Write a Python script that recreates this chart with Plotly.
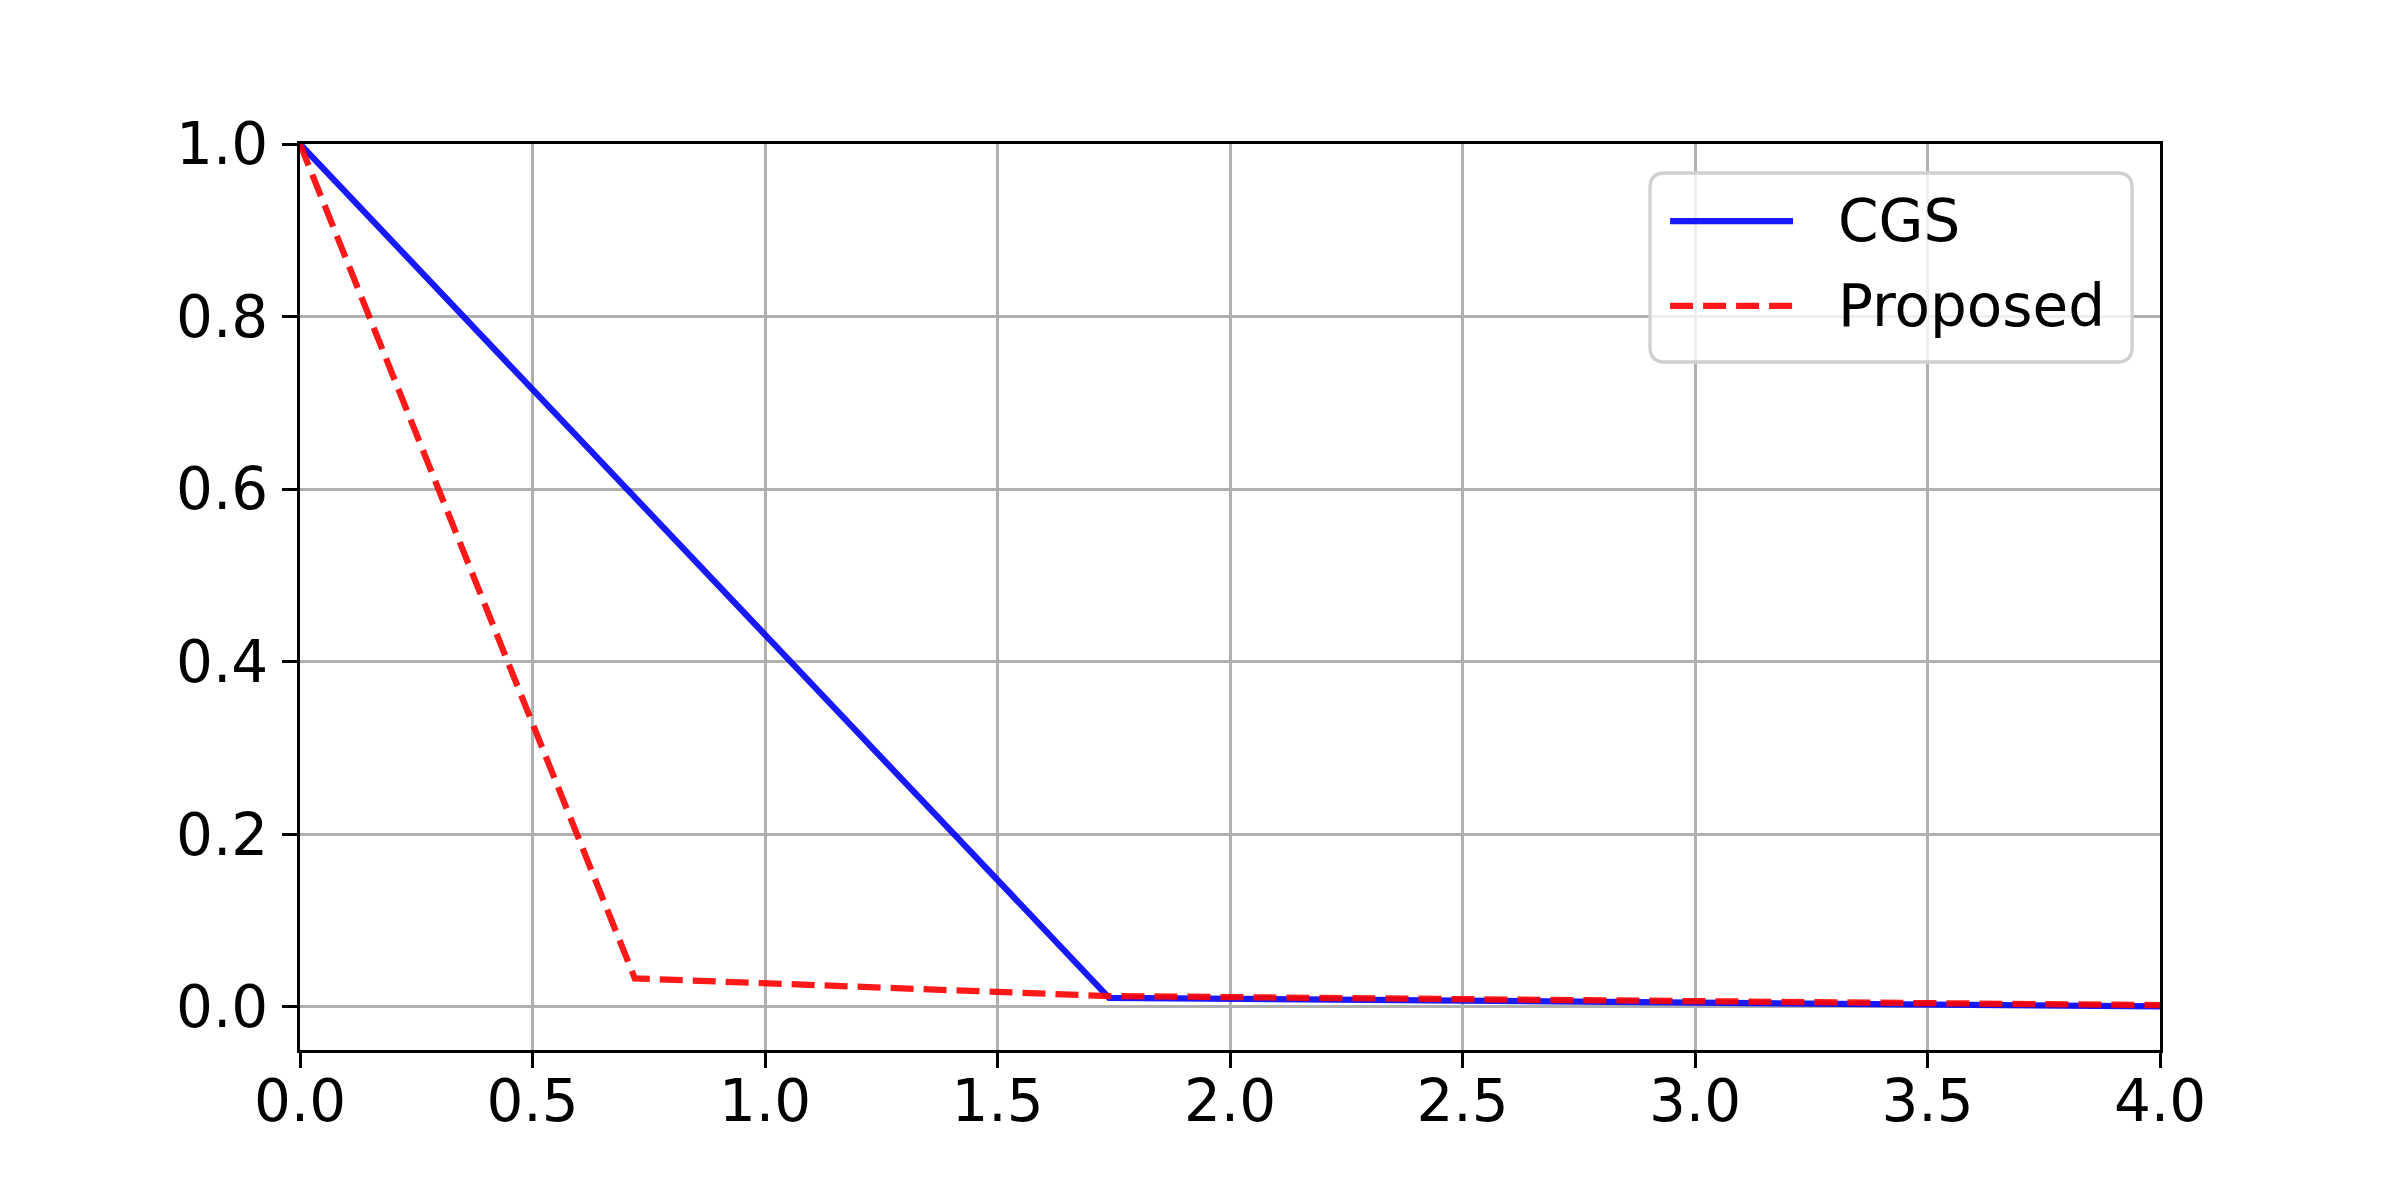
import plotly.graph_objects as go

# Data
cgs_x = [0.0, 1.74, 4.0]
cgs_y = [1.0, 0.0105, 0.0005]
prop_x = [0.0, 0.72, 1.74, 4.0]
prop_y = [1.0, 0.033, 0.0125, 0.002]

series_names = ["CGS", "Proposed"]
x_ticks = [0.0, 0.5, 1.0, 1.5, 2.0, 2.5, 3.0, 3.5, 4.0]
y_ticks = [0.0, 0.2, 0.4, 0.6, 0.8, 1.0]

BLUE = "rgba(0,0,255,0.9)"
RED = "rgba(255,0,0,0.9)"
FONT = "DejaVu Sans"
FS = 58
LW = 6.25

fig = go.Figure()
fig.add_trace(go.Scatter(x=cgs_x, y=cgs_y, mode="lines", name=series_names[0],
                         line=dict(color=BLUE, width=LW), showlegend=False))
fig.add_trace(go.Scatter(x=prop_x, y=prop_y, mode="lines", name=series_names[1],
                         line=dict(color=RED, width=LW, dash="23px,10px"), showlegend=False))

axis_common = dict(
    showgrid=True, gridcolor="#b0b0b0", gridwidth=3.3,
    showline=True, linecolor="black", linewidth=3.3, mirror=True,
    ticks="outside", ticklen=15, tickwidth=3.3, tickcolor="black",
    zeroline=False,
    tickfont=dict(family=FONT, size=FS, color="black"),
)

fig.update_xaxes(range=[0, 4], tickvals=x_ticks,
                 ticktext=[f"{v:.1f}" for v in x_ticks], ticklabelstandoff=-17, **axis_common)
fig.update_yaxes(range=[-0.05, 1.0], tickvals=y_ticks,
                 ticktext=[f"{v:.1f}" for v in y_ticks], ticklabelstandoff=2, **axis_common)

# Manual legend (matplotlib style, rounded frame)
x0, x1, y0, y1 = 0.7258, 0.985, 0.7594, 0.968
rx, ry = 0.008, 0.0166
path = (f"M {x0+rx},{y0} L {x1-rx},{y0} Q {x1},{y0} {x1},{y0+ry} "
        f"L {x1},{y1-ry} Q {x1},{y1} {x1-rx},{y1} L {x0+rx},{y1} "
        f"Q {x0},{y1} {x0},{y1-ry} L {x0},{y0+ry} Q {x0},{y0} {x0+rx},{y0} Z")
fig.add_shape(type="path", path=path, xref="paper", yref="paper",
              fillcolor="rgba(255,255,255,0.8)", line=dict(color="#d0d0d0", width=3.3),
              layer="above")
legend_rows = [(0.915, BLUE, "solid"), (0.8212, RED, "23px,10px")]
for name, (yy, col, dsh) in zip(series_names, legend_rows):
    fig.add_shape(type="line", xref="paper", yref="paper", x0=0.7366, x1=0.8027,
                  y0=yy, y1=yy, line=dict(color=col, width=LW, dash=dsh), layer="above")
    fig.add_annotation(x=0.826, y=yy, xref="paper", yref="paper", text=name,
                       showarrow=False, xanchor="left", yanchor="middle",
                       font=dict(family=FONT, size=FS, color="black"))

fig.update_layout(
    width=2400, height=1200,
    margin=dict(l=292, r=248, t=136, b=158),
    paper_bgcolor="white", plot_bgcolor="white",
    font=dict(family=FONT, size=FS, color="black"),
    showlegend=False,
)

fig.write_html("out.html")
